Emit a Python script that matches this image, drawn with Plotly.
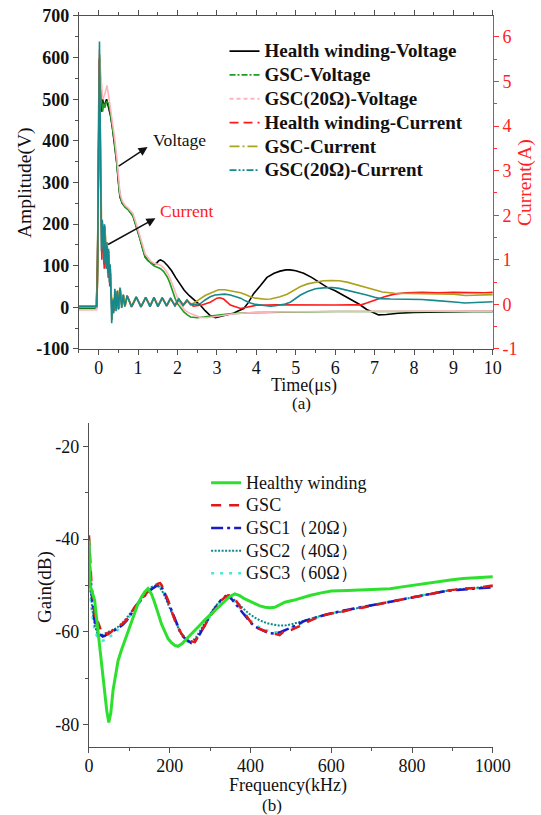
import plotly.graph_objects as go

# ---------------- (a) time domain ----------------
t_hv = [-0.5, -0.06, -0.03, 0.0, 0.02, 0.05, 0.08, 0.1, 0.13, 0.16, 0.2, 0.25, 0.3, 0.35, 0.4, 0.46, 0.5, 0.54, 0.6, 0.67, 0.75, 0.8, 0.87, 0.93, 1.0, 1.06, 1.12, 1.18, 1.25, 1.32, 1.4, 1.47, 1.52, 1.57, 1.65, 1.75, 1.85, 1.95, 2.05, 2.17, 2.3, 2.45, 2.58, 2.7, 2.83, 2.96, 3.1, 3.25, 3.42, 3.55, 3.68, 3.8, 3.93, 4.1, 4.27, 4.45, 4.6, 4.75, 4.86, 5.0, 5.2, 5.4, 5.6, 5.8, 6.0, 6.2, 6.4, 6.6, 6.8, 7.0, 7.1, 7.3, 7.6, 8.0, 8.5, 9.0, 9.5, 10.0]
v_hv = [-3, -3, 100, 480, 580, 540, 470, 500, 480, 490, 500, 480, 460, 430, 395, 346, 300, 265, 250, 241, 235, 229, 220, 202, 182, 161, 140, 121, 113, 108, 104, 106, 112, 114, 110, 100, 88, 72, 58, 41, 28, 15, 5, -8, -20, -25, -22, -18, -14, -8, -3, 12, 33, 52, 72, 82, 87, 90, 90, 88, 82, 72, 60, 48, 40, 30, 20, 8, -5, -15, -18, -17, -14, -12, -11, -10, -10, -10]

t_gv = [-0.5, -0.06, -0.03, 0.0, 0.02, 0.05, 0.08, 0.1, 0.13, 0.16, 0.2, 0.25, 0.3, 0.35, 0.4, 0.46, 0.5, 0.54, 0.6, 0.67, 0.75, 0.8, 0.87, 0.93, 1.0, 1.06, 1.12, 1.18, 1.25, 1.32, 1.4, 1.47, 1.57, 1.65, 1.74, 1.8, 1.86, 1.93, 1.99, 2.08, 2.16, 2.25, 2.33, 2.5, 2.62, 2.75, 2.9, 3.1, 3.4, 3.8, 4.2, 5.0, 6.0, 7.0, 8.0, 9.0, 10.0]
v_gv = [-4, -4, 120, 500, 600, 520, 480, 470, 490, 480, 495, 490, 465, 432, 397, 345, 302, 266, 250, 241, 235, 229, 219, 201, 181, 160, 139, 120, 112, 106, 100, 97, 93, 86, 73, 60, 41, 24, 10, -2, -11, -18, -23, -25, -24, -22, -20, -18, -15, -13, -12, -11, -10, -10, -10, -10, -10]

t_pv = [-0.5, -0.06, -0.03, -0.01, 0.01, 0.03, 0.05, 0.1, 0.15, 0.21, 0.25, 0.3, 0.35, 0.4, 0.46, 0.5, 0.54, 0.6, 0.67, 0.75, 0.8, 0.87, 0.93, 1.0, 1.06, 1.12, 1.18, 1.25, 1.32, 1.4, 1.5, 1.57, 1.65, 1.75, 1.86, 1.95, 2.03, 2.12, 2.2, 2.33, 2.45, 2.58, 2.75, 2.9, 3.1, 3.4, 3.8, 4.5, 5.5, 7.0, 8.5, 10.0]
v_pv = [-6, -6, 60, 350, 620, 590, 560, 500, 510, 533, 510, 480, 450, 410, 360, 315, 275, 255, 245, 238, 233, 225, 208, 188, 168, 148, 128, 118, 111, 106, 103, 101, 95, 82, 58, 35, 15, 0, -8, -15, -20, -24, -25, -23, -20, -16, -13, -11, -10, -9, -9, -9]

t_hc = [-0.5, -0.05, -0.03, -0.01, 0.01, 0.025, 0.04, 0.06, 0.08, 0.1, 0.12, 0.14, 0.16, 0.18, 0.2, 0.22, 0.24, 0.26, 0.28, 0.3, 0.32, 0.34, 0.36, 0.39, 0.42, 0.45, 0.48, 0.51, 0.55, 0.59, 0.63, 0.67, 0.73, 0.84, 0.96, 1.08, 1.2, 1.31, 1.41, 1.51, 1.62, 1.73, 1.83, 1.94, 2.04, 2.15, 2.25, 2.4, 2.62, 2.83, 3.0, 3.08, 3.17, 3.34, 3.6, 3.85, 4.0, 4.5, 5.0, 5.5, 6.0, 6.4, 6.66, 6.8, 7.0, 7.25, 7.5, 7.8, 8.2, 8.6, 9.0, 9.4, 9.8, 10.0]
a_hc = [-0.05, -0.05, 0.8, 3.5, 5.5, 4.8, 3.2, 2.0, 1.0, 1.6, 1.4, 0.8, 1.7, 1.0, 0.8, 1.2, 0.6, 1.1, 0.4, 0.7, -0.1, -0.3, 0.1, -0.15, 0.3, -0.1, 0.28, -0.1, 0.32, -0.06, 0.2, -0.04, 0.19, -0.05, 0.16, -0.05, 0.15, -0.04, 0.15, -0.04, 0.14, -0.03, 0.13, -0.03, 0.11, -0.02, 0.08, -0.04, -0.014, 0.05, 0.14, 0.15, 0.12, -0.014, -0.09, -0.05, -0.02, -0.01, -0.015, -0.01, -0.015, -0.01, -0.01, 0.03, 0.1, 0.17, 0.23, 0.26, 0.27, 0.26, 0.27, 0.26, 0.26, 0.27]

t_gc = [-0.5, -0.05, -0.03, -0.01, 0.01, 0.025, 0.04, 0.06, 0.08, 0.1, 0.12, 0.14, 0.16, 0.18, 0.2, 0.22, 0.24, 0.26, 0.28, 0.3, 0.32, 0.34, 0.36, 0.39, 0.42, 0.45, 0.48, 0.51, 0.55, 0.59, 0.63, 0.67, 0.72, 0.83, 0.95, 1.07, 1.19, 1.3, 1.4, 1.5, 1.61, 1.72, 1.82, 1.93, 2.03, 2.14, 2.24, 2.33, 2.45, 2.58, 2.7, 2.83, 2.95, 3.04, 3.2, 3.34, 3.47, 3.6, 3.72, 3.85, 3.98, 4.1, 4.23, 4.36, 4.48, 4.6, 4.78, 4.95, 5.12, 5.3, 5.5, 5.7, 5.9, 6.1, 6.3, 6.5, 6.75, 6.98, 7.2, 7.5, 7.8, 8.2, 8.6, 9.0, 9.3, 9.6, 10.0]
a_gc = [-0.04, -0.04, 0.5, 2.5, 5.0, 5.6, 4.0, 2.2, 1.3, 1.8, 1.5, 1.0, 1.75, 1.2, 0.9, 1.3, 0.8, 1.2, 0.6, 0.8, -0.1, -0.35, 0.15, -0.1, 0.3, -0.1, 0.32, -0.1, 0.36, -0.07, 0.22, -0.04, 0.19, -0.05, 0.17, -0.05, 0.16, -0.04, 0.15, -0.04, 0.15, -0.03, 0.13, -0.02, 0.12, -0.02, 0.1, -0.014, 0.05, 0.136, 0.2, 0.25, 0.3, 0.33, 0.33, 0.31, 0.29, 0.26, 0.22, 0.17, 0.14, 0.12, 0.115, 0.12, 0.14, 0.17, 0.23, 0.31, 0.4, 0.46, 0.5, 0.53, 0.535, 0.53, 0.5, 0.45, 0.38, 0.32, 0.28, 0.25, 0.245, 0.245, 0.24, 0.23, 0.2, 0.21, 0.22]

t_rc = [-0.5, -0.05, -0.03, -0.01, 0.01, 0.02, 0.035, 0.05, 0.07, 0.09, 0.11, 0.13, 0.15, 0.17, 0.19, 0.21, 0.23, 0.25, 0.27, 0.29, 0.31, 0.33, 0.35, 0.38, 0.41, 0.44, 0.47, 0.5, 0.54, 0.58, 0.62, 0.66, 0.72, 0.83, 0.95, 1.07, 1.19, 1.3, 1.4, 1.5, 1.61, 1.72, 1.82, 1.93, 2.03, 2.14, 2.24, 2.33, 2.45, 2.58, 2.7, 2.83, 2.95, 3.09, 3.2, 3.34, 3.47, 3.6, 3.72, 3.85, 3.98, 4.1, 4.23, 4.36, 4.48, 4.6, 4.73, 4.86, 5.0, 5.12, 5.3, 5.5, 5.7, 5.92, 6.1, 6.3, 6.5, 6.8, 7.0, 7.15, 7.4, 7.8, 8.2, 8.5, 8.87, 9.1, 9.28, 9.5, 9.8, 10.0]
a_rc = [-0.04, -0.04, 0.6, 2.8, 5.2, 5.9, 4.4, 2.6, 1.2, 1.9, 1.7, 0.9, 1.8, 1.1, 0.8, 1.4, 0.7, 1.25, 0.5, 0.9, -0.2, -0.42, 0.1, -0.2, 0.35, -0.15, 0.3, -0.12, 0.38, -0.08, 0.22, -0.05, 0.2, -0.06, 0.17, -0.06, 0.16, -0.05, 0.16, -0.05, 0.15, -0.04, 0.14, -0.03, 0.12, -0.02, 0.1, 0.0, 0.0, 0.02, 0.1, 0.17, 0.21, 0.23, 0.23, 0.21, 0.18, 0.14, 0.08, 0.03, 0.0, -0.015, -0.03, -0.04, -0.03, -0.015, 0.01, 0.05, 0.13, 0.21, 0.29, 0.35, 0.37, 0.38, 0.36, 0.32, 0.27, 0.21, 0.16, 0.13, 0.12, 0.12, 0.11, 0.09, 0.075, 0.05, 0.03, 0.04, 0.05, 0.06]

names_a = ["Health winding-Voltage", "GSC-Voltage", "GSC(20Ω)-Voltage",
           "Health winding-Current", "GSC-Current", "GSC(20Ω)-Current"]
colors_a = ["#000000", "#1e9e1e", "#ffb4bc", "#ff1a1a", "#aca21c", "#17898c"]
dashes_a = ["solid", "6px,2px,2px,2px", "4px,3px", "9px,5px", "10px,3px,2px,3px", "7px,2px,2px,2px,2px,2px"]

yl_vals = [-100, 0, 100, 200, 300, 400, 500, 600, 700]
yl_text = ["-100", "0", "100", "200", "300", "400", "500", "600", "700"]
yr_vals = [-1, 0, 1, 2, 3, 4, 5, 6]
yr_text = ["-1", "0", "1", "2", "3", "4", "5", "6"]

# ---------------- (b) frequency response ----------------
f_h = [0, 1, 3, 8, 14, 20, 26.5, 33, 39, 44, 49, 54, 59.5, 65, 72, 80, 88.5, 97, 105, 113, 121.5, 130, 138, 146, 154.5, 161, 167, 173, 179.5, 188, 196, 204, 212.5, 220, 225, 231, 237, 250, 262, 275, 287, 300, 311.6, 324, 336, 348, 361, 373, 386, 398, 411, 423, 435.6, 448, 460, 472, 485, 506, 528, 549, 575, 600, 640, 677, 710, 746, 775, 806, 835, 866, 895, 926, 960, 1000]
g_h = [-40.3, -46, -50, -51.5, -53.2, -58, -63.3, -68, -73.4, -77, -79.5, -77.5, -72.6, -69.5, -66.2, -64, -61.9, -59.7, -57.5, -55.6, -53.9, -52.5, -51.4, -50.7, -51.8, -53.3, -54.7, -56.5, -58.3, -60.0, -61.5, -62.3, -62.9, -63.1, -62.9, -62.5, -61.9, -60.8, -59.7, -58.5, -57.4, -56.3, -55.4, -54.3, -53.2, -52.4, -51.8, -52.2, -52.9, -53.4, -53.9, -54.4, -54.7, -54.8, -54.7, -54.2, -53.6, -53.2, -52.6, -52.1, -51.6, -51.2, -51.1, -51.0, -50.9, -50.7, -50.3, -49.9, -49.5, -49.2, -48.8, -48.5, -48.3, -48.1]

f_g = [0, 2, 6, 12, 18, 22, 26.5, 31, 35, 40, 47, 55.5, 63, 72, 82, 92.6, 103, 113, 123, 134, 144, 154.5, 163, 171, 176, 179.5, 188, 196, 204, 212.5, 221, 229, 237, 245, 253, 262, 270, 278.6, 287, 295, 303, 311.6, 320, 328, 336, 344.6, 353, 361, 370, 378, 386, 394, 402, 411, 423, 435.6, 448, 460, 472, 485, 500, 520, 549, 575, 600, 630, 655, 677, 700, 725, 746, 775, 806, 835, 866, 895, 926, 960, 1000]
g_g = [-39.2, -44, -49.6, -55, -58.3, -57.8, -59, -60, -60.4, -60.2, -60.5, -60, -59.3, -59, -58.3, -57.5, -56.2, -54.7, -53.6, -52.5, -51.5, -50.7, -50.0, -49.6, -49.5, -49.9, -51.5, -53.2, -55.3, -57.5, -59.1, -60.4, -61.2, -61.5, -62.0, -62.2, -61.0, -59.7, -58.4, -57.2, -56.3, -55.4, -54.3, -53.2, -52.6, -52.1, -52.2, -52.9, -54.0, -55.0, -56.1, -57.2, -58.1, -59.0, -59.4, -59.7, -60.2, -60.4, -60.7, -59.7, -59.6, -58.8, -57.5, -56.6, -56.0, -55.6, -55.0, -54.8, -54.3, -53.9, -53.5, -53.0, -52.4, -51.9, -51.4, -51.0, -50.7, -50.5, -50.0]

f_1 = [0, 3, 8, 14, 20, 27, 34, 40, 48, 56, 64, 72, 82, 93, 103, 113, 124, 134, 145, 155, 165, 172, 178, 186, 195, 205, 215, 225, 235, 245, 253, 262, 272, 282, 292, 303, 315, 327, 338, 346, 355, 365, 376, 388, 400, 412, 425, 438, 450, 462, 475, 490, 510, 535, 560, 590, 620, 650, 680, 710, 740, 770, 800, 830, 860, 890, 920, 950, 1000]
g_1 = [-41, -47, -53, -57.5, -59.5, -60.5, -61, -60.8, -60.3, -60.0, -59.6, -59.2, -58.6, -57.6, -56.3, -55.0, -53.6, -52.6, -51.5, -50.8, -50.2, -49.8, -50.1, -51.3, -53.3, -55.6, -57.8, -59.8, -61.2, -61.9, -62.4, -62.0, -60.8, -59.3, -57.6, -56.0, -54.5, -53.1, -52.3, -52.4, -53.1, -54.2, -55.5, -56.9, -58.0, -58.9, -59.5, -60.0, -60.3, -60.4, -60.0, -59.5, -58.7, -57.6, -56.9, -56.2, -55.6, -55.1, -54.6, -54.1, -53.6, -53.1, -52.6, -52.1, -51.6, -51.1, -50.9, -50.7, -50.4]

f_2 = [0, 3, 8, 14, 20, 27, 34, 42, 50, 60, 72, 85, 98, 110, 122, 134, 146, 156, 165, 174, 184, 194, 204, 214, 224, 234, 244, 254, 264, 276, 288, 300, 312, 324, 336, 346, 356, 368, 380, 395, 410, 425, 440, 455, 470, 485, 500, 520, 545, 570, 600, 640, 680, 720, 760, 800, 840, 880, 920, 960, 1000]
g_2 = [-45, -50, -55, -58.5, -60.2, -60.8, -60.6, -60.2, -59.9, -59.6, -58.9, -57.8, -56.5, -55.0, -53.5, -52.2, -51.0, -50.3, -50.0, -50.3, -51.6, -53.6, -55.8, -58.0, -59.8, -61.2, -62.0, -62.1, -61.3, -59.6, -57.8, -56.1, -54.6, -53.4, -52.6, -52.4, -52.8, -53.7, -54.8, -56.0, -56.9, -57.6, -58.1, -58.4, -58.6, -58.6, -58.4, -57.9, -57.2, -56.6, -56.1, -55.3, -54.6, -54.0, -53.3, -52.5, -51.8, -51.2, -50.8, -50.5, -50.2]

f_3 = [0, 3, 8, 14, 20, 27, 34, 42, 50, 60, 72, 85, 98, 110, 122, 134, 146, 157, 166, 174, 182, 192, 202, 212, 222, 232, 242, 252, 262, 274, 286, 298, 310, 322, 334, 344, 354, 366, 378, 392, 406, 420, 434, 448, 462, 476, 490, 510, 535, 560, 590, 630, 670, 710, 750, 790, 830, 870, 910, 950, 1000]
g_3 = [-47, -52, -56.5, -59.5, -61.0, -61.6, -61.9, -61.7, -61.2, -60.5, -59.5, -58.4, -57.0, -55.5, -54.0, -52.6, -51.3, -50.3, -49.9, -50.1, -51.0, -52.8, -55.0, -57.2, -59.2, -60.8, -61.9, -62.5, -62.2, -60.6, -58.7, -56.9, -55.2, -53.8, -52.8, -52.5, -52.9, -54.0, -55.4, -56.9, -58.0, -58.9, -59.5, -59.9, -60.1, -60.0, -59.6, -58.7, -57.8, -57.0, -56.2, -55.4, -54.7, -54.0, -53.3, -52.6, -52.0, -51.4, -51.0, -50.6, -50.2]

names_b = ["Healthy winding", "GSC", "GSC1（20Ω）", "GSC2（40Ω）", "GSC3（60Ω）"]
colors_b = ["#2ee02e", "#e01818", "#1a1ac8", "#0a8a8a", "#4ae8d4"]
dashes_b = ["solid", "10px,8px", "12px,4px,3px,4px", "2px,1.5px", "3px,6px"]
widths_b = [3, 2.5, 2.5, 2, 2.5]
gy_vals = [-80, -60, -40, -20]
gy_text = ["-80", "-60", "-40", "-20"]

SERIF = "Liberation Serif, Times New Roman, serif"
fig = go.Figure()

# (a) data traces, drawn solid (dense measured records)
series_a = [(t_hv, v_hv, "y"), (t_gv, v_gv, "y"), (t_pv, v_pv, "y"),
            (t_hc, a_hc, "y2"), (t_gc, a_gc, "y2"), (t_rc, a_rc, "y2")]
for (xs, ys, ax), nm, c in zip(series_a, names_a, colors_a):
    fig.add_trace(go.Scatter(x=xs, y=ys, mode="lines", name=nm, xaxis="x", yaxis=ax,
                             line=dict(color=c, width=1.6), showlegend=False, legend="legend"))
# (a) key entries with the line styles of the key
for nm, c, d in zip(names_a, colors_a, dashes_a):
    fig.add_trace(go.Scatter(x=[None], y=[None], mode="lines",
                             name='<span style="font-size:19px"><b>%s</b></span>' % nm,
                             xaxis="x", yaxis="y",
                             line=dict(color=c, width=1.8, dash=d), legend="legend"))

# (b)
series_b = [(f_h, g_h), (f_g, g_g), (f_1, g_1), (f_2, g_2), (f_3, g_3)]
for i in [4, 3, 2, 1, 0]:
    xs, ys = series_b[i]
    fig.add_trace(go.Scatter(x=xs, y=ys, mode="lines",
                             name='<span style="font-size:18px">%s</span>' % names_b[i],
                             xaxis="x3", yaxis="y3",
                             line=dict(color=colors_b[i], width=widths_b[i], dash=dashes_b[i]),
                             legend="legend2", legendrank=i + 1))

axis_col = "#505050"
tickf = dict(family=SERIF, size=18, color="#111")
common = dict(showgrid=False, zeroline=False, showline=True, linecolor=axis_col, linewidth=1.3,
              tickcolor=axis_col, tickwidth=1.2, ticklen=5, automargin=False)

fig.update_layout(
    width=541, height=815, autosize=False,
    margin=dict(l=0, r=0, t=0, b=0, pad=0),
    paper_bgcolor="white", plot_bgcolor="white",
    font=dict(family=SERIF, size=18, color="#111"),
    xaxis=dict(domain=[0.146, 0.911], anchor="y", range=[-0.5, 10], tick0=0, dtick=1,
               ticks="outside", mirror="ticks", tickfont=tickf, ticklabelstandoff=-3,
               minor=dict(dtick=0.5, tick0=0, ticks="outside", ticklen=3, tickcolor=axis_col), **common),
    yaxis=dict(domain=[0.5718, 0.9804], anchor="x", range=[-100, 700],
               tickvals=yl_vals, ticktext=yl_text,
               ticks="outside", tickfont=dict(family=SERIF, size=18, color="#111", weight="bold"),
               minor=dict(dtick=50, tick0=0, ticks="outside", ticklen=3, tickcolor=axis_col), **common),
    yaxis2=dict(overlaying="y", side="right", anchor="x", range=[-1, 6.47],
                tickvals=yr_vals, ticktext=yr_text, automargin=False,
                ticks="outside", showgrid=False, zeroline=False, showline=True, linecolor="#ff3030",
                linewidth=1.3, tickcolor="#ff3030", tickwidth=1.2, ticklen=5,
                tickfont=dict(family=SERIF, size=18, color="#ff2020"),
                minor=dict(dtick=0.5, tick0=0, ticks="outside", ticklen=3, tickcolor="#ff3030")),
    xaxis3=dict(domain=[0.1645, 0.911], anchor="y3", range=[0, 1000], tick0=0, dtick=200,
                ticks="outside", tickfont=tickf, ticklabelstandoff=-3,
                minor=dict(dtick=100, tick0=0, ticks="outside", ticklen=3, tickcolor=axis_col), **common),
    yaxis3=dict(domain=[0.0834, 0.481], anchor="x3", range=[-84.8, -15],
                tickvals=gy_vals, ticktext=gy_text,
                ticks="outside", tickfont=tickf,
                minor=dict(dtick=10, tick0=0, ticks="outside", ticklen=3, tickcolor=axis_col), **common),
    xaxis4=dict(overlaying="x3", side="top", anchor="y3", range=[0, 1000], tick0=0, dtick=200,
                ticks="inside", showticklabels=False,
                minor=dict(dtick=100, tick0=0, ticks="inside", ticklen=3, tickcolor=axis_col), **common),
    yaxis4=dict(overlaying="y3", side="right", anchor="x3", range=[-84.8, -15], tick0=-20, dtick=20,
                ticks="inside", showticklabels=False,
                minor=dict(dtick=10, tick0=0, ticks="inside", ticklen=3, tickcolor=axis_col), **common),
    legend=dict(x=0.415, y=0.958, xanchor="left", yanchor="top", bgcolor="rgba(0,0,0,0)",
                font=dict(family=SERIF, size=16, color="#111"), tracegroupgap=0),
    legend2=dict(x=0.381, y=0.4277, xanchor="left", yanchor="top", bgcolor="rgba(0,0,0,0)",
                 font=dict(family=SERIF, size=15.1, color="#111"), tracegroupgap=0),
)

W, H = 541.0, 815.0
def px(xp, yp):
    return xp / W, 1 - yp / H

ann = []
def txt(s, xp, yp, size=18, color="#111", angle=0):
    x, y = px(xp, yp)
    ann.append(dict(text=s, x=x, y=y, xref="paper", yref="paper", showarrow=False,
                    xanchor="center", yanchor="middle", textangle=angle,
                    font=dict(family=SERIF, size=size, color=color)))

txt("Time(μs)", 304, 386)
txt("(a)", 301, 403, size=17)
txt("Amplitude(V)", 25, 183, size=19.5, angle=-90)
txt("Current(A)", 525, 183, size=19.5, color="#ff2020", angle=-90)
txt("Frequency(kHz)", 288, 785)
txt("(b)", 272, 805, size=17)
txt("Gain(dB)", 45, 587, size=19, angle=-90)

# in-plot labels with arrows (data coordinates)
ann.append(dict(text="Voltage", x=2.06, y=401, xref="x", yref="y", showarrow=False,
                font=dict(family=SERIF, size=17.5, color="#111")))
ann.append(dict(text="Current", x=2.23, y=231, xref="x", yref="y", showarrow=False,
                font=dict(family=SERIF, size=17.5, color="#ff2020")))
ann.append(dict(text="", x=1.24, y=385, ax=0.47, ay=337, xref="x", yref="y", axref="x", ayref="y",
                showarrow=True, arrowhead=2, arrowsize=1.2, arrowwidth=1.5, arrowcolor="#111"))
ann.append(dict(text="", x=1.44, y=214, ax=0.2, ay=149, xref="x", yref="y", axref="x", ayref="y",
                showarrow=True, arrowhead=2, arrowsize=1.2, arrowwidth=1.5, arrowcolor="#111"))

fig.update_layout(annotations=ann)
fig.write_html("out.html", config={"displayModeBar": False},
               post_script="document.body.style.margin='0px';document.body.style.overflow='hidden';")
